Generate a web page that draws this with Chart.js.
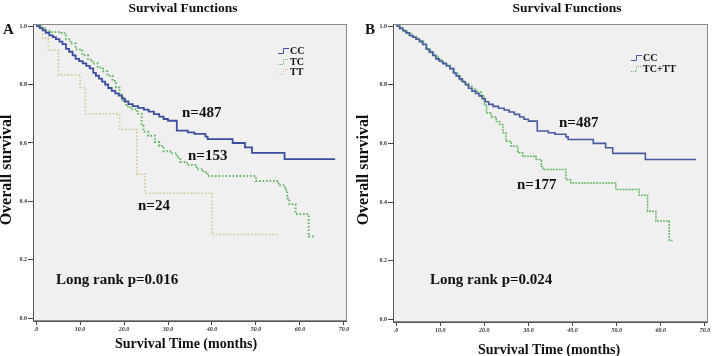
<!DOCTYPE html>
<html>
<head>
<meta charset="utf-8">
<script src="https://cdn.jsdelivr.net/npm/chart.js@4.4.0/dist/chart.umd.min.js"></script>
<style>
    body { margin: 0; background: #fff; }
    canvas { position: absolute; top: 0; }
</style>
</head>
<body>
<canvas id="chartA" width="355" height="356" style="left:0px"></canvas>
<canvas id="chartB" width="360" height="356" style="left:355px"></canvas>
<script>
// tick values shared by both panels
const xTicks = [0, 10, 20, 30, 40, 50, 60, 70];
const yTicks = [0, 0.2, 0.4, 0.6, 0.8, 1.0];

// CC genotype (same curve in both panels, n=487)
const ccTime = [0, 0.8, 1.5, 2.2, 3.0, 3.8, 4.5, 5.3, 6.0, 6.8, 7.5, 8.3, 9.0, 9.8, 10.6, 11.4, 12.2, 13.0, 13.6, 14.3,
    15.0, 15.7, 16.4, 17.2, 18.0, 18.8, 19.5, 20.2, 21.0, 22.0, 23.2, 24.5, 25.6, 26.8, 28.0, 29.0, 30.0, 32.0, 34.5, 36.0,
    38.5, 39.0, 44.7, 47.5, 49.1, 56.5, 68.0];
const ccSurv = [1.0, 0.993, 0.985, 0.977, 0.968, 0.962, 0.955, 0.947, 0.938, 0.922, 0.912, 0.900, 0.888, 0.880, 0.872, 0.864, 0.855, 0.840, 0.830, 0.820,
    0.810, 0.800, 0.788, 0.778, 0.770, 0.762, 0.752, 0.742, 0.733, 0.726, 0.720, 0.714, 0.707, 0.699, 0.690, 0.682, 0.676, 0.642, 0.636, 0.631,
    0.622, 0.613, 0.600, 0.585, 0.566, 0.545, 0.545];

// TC genotype (panel A, n=153)
const tcTime = [0, 1.0, 2.0, 3.5, 5.8, 6.8, 7.8, 9.0, 10.5, 11.8, 12.8, 14.0, 15.2, 16.2, 17.4, 18.2, 19.0, 19.8, 20.5, 21.5,
    23.0, 24.0, 24.4, 25.5, 27.0, 28.0, 29.0, 30.5, 32.0, 32.8, 34.3, 36.5, 38.0, 39.0, 50.0, 54.8, 55.5, 56.6, 57.1, 57.6,
    59.0, 62.0, 63.2];
const tcSurv = [1.0, 0.992, 0.983, 0.980, 0.975, 0.955, 0.940, 0.920, 0.900, 0.885, 0.872, 0.858, 0.845, 0.830, 0.812, 0.790, 0.765, 0.740, 0.725, 0.715,
    0.700, 0.660, 0.638, 0.625, 0.603, 0.590, 0.572, 0.565, 0.550, 0.535, 0.525, 0.510, 0.500, 0.487, 0.470, 0.462, 0.455, 0.440, 0.410, 0.390,
    0.357, 0.280, 0.280];

// TT genotype (panel A, n=24)
const ttTime = [0, 1.5, 2.8, 5.1, 10.0, 11.2, 19.0, 22.9, 24.8, 40.0, 54.8];
const ttSurv = [1.0, 0.958, 0.917, 0.833, 0.790, 0.700, 0.646, 0.494, 0.428, 0.287, 0.287];

// TC+TT combined (panel B, n=177)
const tcttTime = [0, 0.8, 1.5, 2.5, 3.5, 4.5, 5.3, 6.2, 7.0, 7.8, 8.6, 9.5, 10.5, 11.4, 12.3, 13.2, 14.0, 14.6, 15.5, 16.4,
    17.2, 18.2, 19.3, 20.0, 20.5, 21.6, 22.7, 23.5, 24.2, 24.9, 26.1, 27.6, 28.7, 31.7, 32.9, 33.3, 38.5, 39.6, 49.8, 55.1,
    57.0, 58.9, 61.9, 62.9];
const tcttSurv = [1.0, 0.990, 0.982, 0.975, 0.965, 0.958, 0.950, 0.935, 0.920, 0.908, 0.897, 0.885, 0.875, 0.866, 0.855, 0.840, 0.830, 0.815, 0.805, 0.795,
    0.785, 0.775, 0.762, 0.730, 0.704, 0.690, 0.675, 0.664, 0.636, 0.607, 0.590, 0.568, 0.556, 0.545, 0.522, 0.511, 0.476, 0.465, 0.443, 0.423,
    0.369, 0.335, 0.269, 0.269];

const SERIF = '"Liberation Serif", "Times New Roman", serif';

function pts(t, s) {
    return t.map((x, i) => ({ x: x, y: s[i] }));
}

// background, frame and all the text around each panel
const decorations = {
    id: 'decorations',
    beforeDatasetsDraw(chart, args, o) {
        const { ctx, chartArea: a } = chart;
        ctx.save();
        ctx.fillStyle = '#f0f0f0';
        ctx.fillRect(a.left, a.top, a.right - a.left, a.bottom - a.top);
        ctx.restore();
    },
    afterDraw(chart, args, o) {
        const { ctx, chartArea: a } = chart;
        ctx.save();
        ctx.strokeStyle = '#8a8a8a';
        ctx.lineWidth = 1;
        ctx.strokeRect(a.left + 0.5, a.top + 0.5, a.right - a.left - 1, a.bottom - a.top - 1);
        ctx.strokeStyle = '#555';
        ctx.beginPath();
        ctx.moveTo(a.left + 0.5, a.top);
        ctx.lineTo(a.left + 0.5, a.bottom + 0.5);
        ctx.lineTo(a.right, a.bottom + 0.5);
        ctx.stroke();

        ctx.fillStyle = '#111';
        ctx.textBaseline = 'middle';

        ctx.font = `bold 13.5px ${SERIF}`;
        ctx.textAlign = 'center';
        ctx.fillText('Survival Functions', o.titleX, 9);

        ctx.font = `bold 15px ${SERIF}`;
        ctx.textAlign = 'left';
        ctx.fillText(o.letter, o.letterX, 30);

        ctx.font = `bold 14px ${SERIF}`;
        ctx.textAlign = 'center';
        ctx.fillText('Survival Time (months)', o.xTitleX, o.xTitleY);

        ctx.save();
        ctx.translate(o.yTitleX, 170);
        ctx.rotate(-Math.PI / 2);
        ctx.font = `bold 16px ${SERIF}`;
        ctx.fillText('Overall survival', 0, 0);
        ctx.restore();

        ctx.font = `bold 15px ${SERIF}`;
        ctx.textAlign = 'left';
        o.notes.forEach(n => ctx.fillText(n.text, n.x, n.y));

        // legend with little step icons
        ctx.font = `bold 10px ${SERIF}`;
        chart.data.datasets.forEach((ds, i) => {
            const y = o.legendY[i];
            const x = o.legendX;
            ctx.strokeStyle = ds.borderColor;
            ctx.lineWidth = 1;
            ctx.setLineDash(ds.borderDash && ds.borderDash.length ? [1, 1] : []);
            ctx.beginPath();
            ctx.moveTo(x - 11, y + 2.5);
            ctx.lineTo(x - 5.5, y + 2.5);
            ctx.lineTo(x - 5.5, y - 2.5);
            ctx.lineTo(x, y - 2.5);
            ctx.stroke();
            ctx.setLineDash([]);
            ctx.fillStyle = '#111';
            ctx.fillText(ds.label, x + 1, y);
        });
        ctx.restore();
    }
};

function makeChart(id, datasets, box, deco) {
    new Chart(document.getElementById(id), {
        type: 'line',
        data: { datasets: datasets },
        options: {
            responsive: false,
            animation: false,
            layout: { padding: { left: 0, right: box.padRight, top: box.padTop, bottom: 0 } },
            plugins: {
                legend: { display: false },
                tooltip: { enabled: false },
                decorations: deco
            },
            elements: { point: { radius: 0 }, line: { tension: 0 } },
            scales: {
                x: {
                    type: 'linear',
                    min: -0.7,
                    max: 70.7,
                    afterBuildTicks: s => { s.ticks = xTicks.map(v => ({ value: v })); },
                    afterFit: s => { s.height = box.xHeight; },
                    grid: { drawOnChartArea: false, tickLength: 4, tickColor: '#444' },
                    border: { display: false },
                    ticks: {
                        autoSkip: false,
                        maxRotation: 0,
                        padding: 1,
                        color: '#333',
                        font: { family: SERIF, size: 6, weight: 'bold', style: 'italic' },
                        callback: v => v === 0 ? '.0' : v.toFixed(1)
                    }
                },
                y: {
                    min: -0.009,
                    max: 1.007,
                    afterBuildTicks: s => { s.ticks = yTicks.map(v => ({ value: v })); },
                    afterFit: s => { s.width = box.yWidth; },
                    grid: { drawOnChartArea: false, tickLength: 5, tickColor: '#444' },
                    border: { display: false },
                    ticks: {
                        autoSkip: false,
                        padding: 1,
                        color: '#333',
                        font: { family: SERIF, size: 6, weight: 'bold' },
                        callback: v => v.toFixed(1)
                    }
                }
            }
        },
        plugins: [decorations]
    });
}

makeChart('chartA', [
    { label: 'CC', data: pts(ccTime, ccSurv), stepped: true, borderColor: '#3c4d9e', borderWidth: 1.8, fill: false },
    { label: 'TC', data: pts(tcTime, tcSurv), stepped: true, borderColor: '#5fb35f', borderWidth: 2, borderDash: [1.5, 2], fill: false },
    { label: 'TT', data: pts(ttTime, ttSurv), stepped: true, borderColor: '#d2c48c', borderWidth: 1.6, borderDash: [1.5, 2], fill: false }
], { padRight: 8, padTop: 24, xHeight: 35, yWidth: 33 }, {
    letter: 'A', letterX: 3, titleX: 183,
    xTitleX: 186, xTitleY: 344, yTitleX: 7,
    legendX: 289, legendY: [51, 62, 72],
    notes: [
        { text: 'n=487', x: 182, y: 113 },
        { text: 'n=153', x: 188, y: 156 },
        { text: 'n=24', x: 138, y: 206 },
        { text: 'Long rank p=0.016', x: 56, y: 280 }
    ]
});

makeChart('chartB', [
    { label: 'CC', data: pts(ccTime, ccSurv), stepped: true, borderColor: '#4a5aa0', borderWidth: 1.6, fill: false },
    { label: 'TC+TT', data: pts(tcttTime, tcttSurv), stepped: true, borderColor: '#66b866', borderWidth: 1.5, borderDash: [2, 1], fill: false }
], { padRight: 7, padTop: 24, xHeight: 34, yWidth: 38 }, {
    letter: 'B', letterX: 10, titleX: 212,
    xTitleX: 194, xTitleY: 350, yTitleX: 9,
    legendX: 287, legendY: [58, 69],
    notes: [
        { text: 'n=487', x: 204, y: 123 },
        { text: 'n=177', x: 162, y: 185 },
        { text: 'Long rank p=0.024', x: 75, y: 280 }
    ]
});
</script>
</body>
</html>
